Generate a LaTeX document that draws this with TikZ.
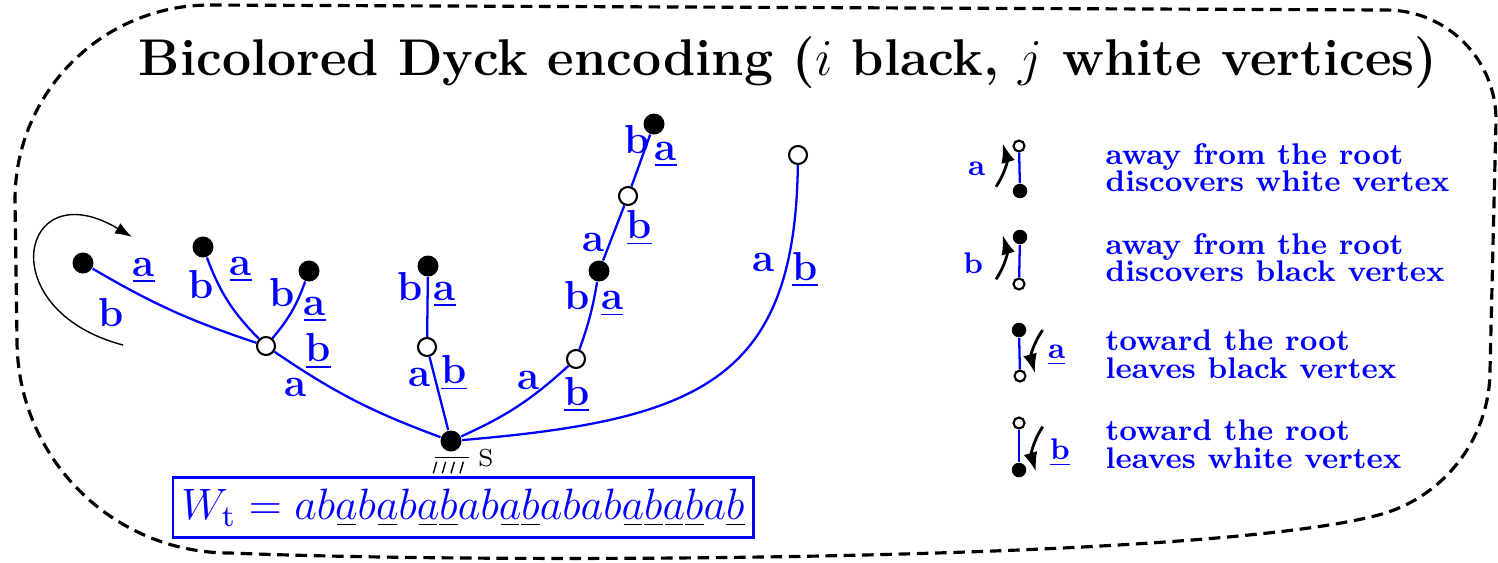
\documentclass[tikz,border=0pt]{standalone}
\usepackage{fix-cm}
\usepackage{tikz}
\usetikzlibrary{arrows.meta}
\newcommand{\dashul}[1]{\mbox{\ooalign{$#1$\cr\hfil\color{black}\rule[-1.6pt]{0.42em}{0.45pt}\hfil\cr}}}

\begin{document}
\begin{tikzpicture}[>=Latex,
  blackv/.style={circle, fill=black, inner sep=0pt, minimum size=0.21cm},
  whitev/.style={circle, draw=black, fill=white, line width=0.6pt, inner sep=0pt, minimum size=0.18cm},
  smallb/.style={circle, fill=black, inner sep=0pt, minimum size=0.145cm},
  smallw/.style={circle, draw=black, fill=white, line width=0.6pt, inner sep=0pt, minimum size=0.11cm},
  branch/.style={draw=blue, line width=0.65pt},
  letter/.style={text=blue, font=\fontsize{11.5}{13}\selectfont\bfseries, inner sep=0pt, anchor=base},
  legletter/.style={text=blue, font=\fontsize{8.5}{10}\selectfont\bfseries, inner sep=0pt, anchor=base},
  legtext/.style={text=blue, font=\fontsize{8.5}{7.8}\selectfont\bfseries, align=left, inner sep=0pt, anchor=north west},
  legarrow/.style={-{Latex[length=5.5pt,width=4pt]}, line width=0.8pt}]
\useasboundingbox (0,0) rectangle (14.98,-5.62);

% dashed frame
\draw[line width=0.9pt, dash pattern=on 3.3pt off 1.9pt]
  (2.1,-0.05) -- (13.86,-0.10) arc[start angle=90, end angle=0, radius=1.1]
  -- (14.9,-3.7) arc[start angle=0, end angle=-75, radius=1.5]
  .. controls (12.05,-5.615) and (5.0,-5.64) .. (2.3,-5.53)
  arc[start angle=-90, end angle=-180, radius=2.13]
  -- (0.15,-2.0) arc[start angle=180, end angle=90, radius=1.95] -- cycle;

\node[anchor=base, font=\fontsize{14.7}{17}\selectfont\bfseries] (title) at (7.88,-0.75)
  {Bicolored Dyck encoding ($i$ black, $j$ white vertices)};

% the tree
\node[blackv] (S) at (4.51,-4.41) {};
\node[whitev] (W1) at (2.66,-3.46) {};
\node[blackv] (B1) at (0.83,-2.63) {};
\node[blackv] (B2) at (2.03,-2.47) {};
\node[blackv] (B3) at (3.09,-2.71) {};
\node[whitev] (W2) at (4.27,-3.47) {};
\node[blackv] (B4) at (4.28,-2.66) {};
\node[whitev] (W3) at (5.76,-3.59) {};
\node[blackv] (B5) at (5.99,-2.71) {};
\node[whitev] (W4) at (6.28,-1.96) {};
\node[blackv] (B6) at (6.54,-1.24) {};
\node[whitev] (W5) at (7.98,-1.55) {};

\draw[branch] (S) to[bend left=7] (W1);
\draw[branch] (W1) to[bend left=6] (B1);
\draw[branch] (W1) to[bend left=12] (B2);
\draw[branch] (W1) to[bend right=10] (B3);
\draw[branch] (S) -- (W2);
\draw[branch] (W2) -- (B4);
\draw[branch] (S) to[bend right=9] (W3);
\draw[branch] (W3) to[bend right=5] (B5);
\draw[branch] (B5) -- (W4);
\draw[branch] (W4) -- (B6);
\draw[branch] (S) .. controls (7.00,-4.20) and (7.95,-3.80) .. (W5);

\node[letter] (l1b) at (1.107,-3.26) {b};
\node[letter] (l1a) at (1.44,-2.76) {\underline{a}};
\node[letter] (l2b) at (2.01,-2.983) {b};
\node[letter] (l2a) at (2.407,-2.75) {\underline{a}};
\node[letter] (l3b) at (2.817,-3.06) {b};
\node[letter] (l3a) at (3.15,-3.15) {\underline{a}};
\node[letter] (l4b) at (3.183,-3.617) {\underline{b}};
\node[letter] (l4a) at (2.96,-3.967) {a};
\node[letter] (l5a) at (4.193,-3.867) {a};
\node[letter] (l5b) at (4.54,-3.833) {\underline{b}};
\node[letter] (l6b) at (4.10,-3.00) {b};
\node[letter] (l6a) at (4.45,-3.00) {\underline{a}};
\node[letter] (l7a) at (5.283,-3.893) {a};
\node[letter] (l7b) at (5.767,-4.05) {\underline{b}};
\node[letter] (l8b) at (5.767,-3.093) {b};
\node[letter] (l8a) at (6.123,-3.093) {\underline{a}};
\node[letter] (l9a) at (5.933,-2.517) {a};
\node[letter] (l9b) at (6.393,-2.383) {\underline{b}};
\node[letter] (l10b) at (6.367,-1.533) {b};
\node[letter] (l10a) at (6.657,-1.60) {\underline{a}};
\node[letter] (l11a) at (7.633,-2.717) {a};
\node[letter] (l11b) at (8.05,-2.80) {\underline{b}};

% turning arrow round the first leaf
\coordinate (loopS) at (1.23,-3.45);
\coordinate (loopE) at (1.32,-2.37);
\draw[line width=0.4pt, -{Latex[length=4.8pt,width=3.4pt]}] (loopS) .. controls (-0.10,-3.10) and (0.20,-1.70) .. (loopE);

% root mark
\draw[line width=0.4pt] (4.35,-4.577) -- (4.693,-4.577);
\foreach \x in {4.333,4.423,4.51,4.60}
  \draw[line width=0.4pt] (\x,-4.733) -- (\x+0.034,-4.617);
\node[font=\fontsize{7}{8}\selectfont, inner sep=0pt] (Slab) at (4.86,-4.58) {S};

% word
\node[draw=blue, line width=0.85pt, text=blue, inner xsep=1.5pt, minimum width=5.80cm, minimum height=0.51cm,
  font=\fontsize{12.5}{15}\selectfont] (word) at (4.63,-5.075)
  {$W_{\mathrm{t}} = ab\dashul{a}b\dashul{a}b\dashul{a}\dashul{b}ab\dashul{a}\dashul{b}abab\dashul{a}\dashul{b}\dashul{a}\dashul{b}a\dashul{b}$};

% legend
\node[smallw] (e1w) at (10.19,-1.46) {};
\node[smallb] (e1b) at (10.20,-1.91) {};
\draw[branch] (e1b) -- (e1w);
\coordinate (e1s) at (9.96,-1.867);
\coordinate (e1t) at (10.027,-1.433);
\draw[legarrow] (e1s) to[bend right=25] (e1t);
\node[legletter] (e1l) at (9.767,-1.75) {a};
\node[legtext] (e1x) at (11.05,-1.427) {away from the root\\discovers white vertex};

\node[smallb] (e2b) at (10.20,-2.37) {};
\node[smallw] (e2w) at (10.19,-2.84) {};
\draw[branch] (e2w) -- (e2b);
\coordinate (e2s) at (9.96,-2.793);
\coordinate (e2t) at (10.027,-2.35);
\draw[legarrow] (e2s) to[bend right=25] (e2t);
\node[legletter] (e2l) at (9.733,-2.733) {b};
\node[legtext] (e2x) at (11.05,-2.327) {away from the root\\discovers black vertex};

\node[smallb] (e3b) at (10.19,-3.30) {};
\node[smallw] (e3w) at (10.20,-3.76) {};
\draw[branch] (e3b) -- (e3w);
\coordinate (e3s) at (10.427,-3.30);
\coordinate (e3t) at (10.35,-3.733);
\draw[legarrow] (e3s) to[bend right=25] (e3t);
\node[legletter] (e3l) at (10.567,-3.583) {\underline{a}};
\node[legtext] (e3x) at (11.05,-3.294) {toward the root\\leaves black vertex};

\node[smallw] (e4w) at (10.19,-4.23) {};
\node[smallb] (e4b) at (10.19,-4.70) {};
\draw[branch] (e4w) -- (e4b);
\coordinate (e4s) at (10.427,-4.267);
\coordinate (e4t) at (10.36,-4.717);
\draw[legarrow] (e4s) to[bend right=25] (e4t);
\node[legletter] (e4l) at (10.60,-4.593) {\underline{b}};
\node[legtext] (e4x) at (11.05,-4.194) {toward the root\\leaves white vertex};
\end{tikzpicture}
\end{document}
